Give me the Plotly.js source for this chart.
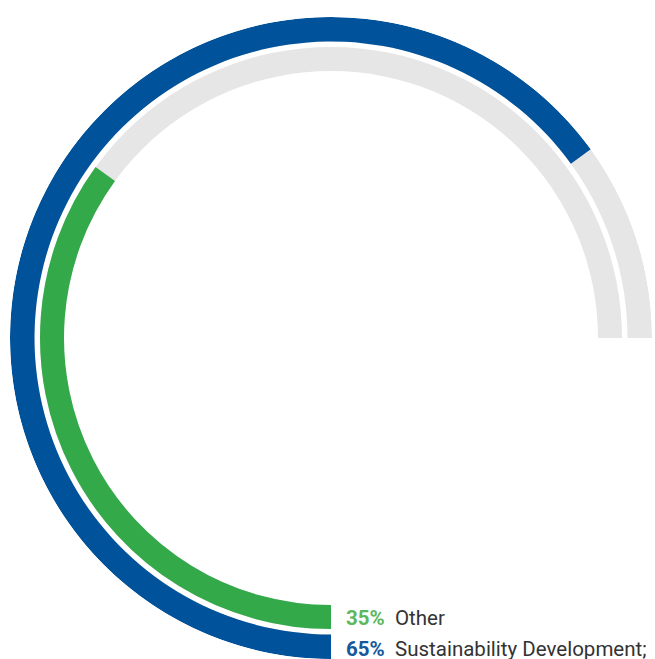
<!DOCTYPE html>
<html>
<head>
<meta charset="utf-8">
<script src="https://cdn.plot.ly/plotly-3.0.1.min.js"></script>
<style>html,body{margin:0;padding:0;background:#fff;}#chart{width:655px;height:659px;}</style>
</head>
<body>
<div id="chart"></div>
<script>
// Data
const categories = ['Other', 'Sustainability Development;'];
const percents = [35, 65];
const barColors = ['#34a94a', '#00529b'];
const pctColors = ['#5cb85c', '#15599c'];
const trackSpanDeg = 270;       // grey track spans 3/4 of the circle
const ringInner = [267, 296.5]; // radial units (inner ring, outer ring)
const ringThick = [24, 24.5];

const traces = [];
// grey tracks
for (let i = 0; i < categories.length; i++) {
  traces.push({
    type: 'barpolar',
    theta: [trackSpanDeg / 2], width: [trackSpanDeg],
    r: [ringThick[i]], base: [ringInner[i]],
    marker: {color: '#e6e6e6', line: {width: 0}},
    hoverinfo: 'skip', showlegend: false
  });
}
// value arcs (percent of the full circle)
for (let i = 0; i < categories.length; i++) {
  const span = percents[i] / 100 * 360;
  traces.push({
    type: 'barpolar',
    theta: [span / 2], width: [span],
    r: [ringThick[i]], base: [ringInner[i]],
    marker: {color: barColors[i], line: {width: 0}},
    name: categories[i], hoverinfo: 'skip', showlegend: false
  });
}

const annotations = [];
const rowY = [618, 649];
for (let i = 0; i < categories.length; i++) {
  annotations.push({
    xref: 'paper', yref: 'paper', x: 344 / 655, y: 1 - rowY[i] / 659,
    xanchor: 'left', yanchor: 'middle', showarrow: false,
    text: '<b>' + percents[i] + '%</b>',
    font: {family: 'Roboto, sans-serif', size: 20.5, color: pctColors[i]}
  });
  annotations.push({
    xref: 'paper', yref: 'paper', x: 393 / 655, y: 1 - rowY[i] / 659,
    xanchor: 'left', yanchor: 'middle', showarrow: false,
    text: categories[i],
    font: {family: 'Roboto, sans-serif', size: 20.5, color: '#333333'}
  });
}

const layout = {
  width: 655, height: 659,
  margin: {l: 0, r: 0, t: 0, b: 0},
  paper_bgcolor: '#ffffff',
  showlegend: false,
  polar: {
    domain: {x: [10 / 655, 652 / 655], y: [0, 642 / 659]},
    bgcolor: 'rgba(0,0,0,0)',
    barmode: 'overlay',
    radialaxis: {visible: false, range: [0, 321]},
    angularaxis: {visible: false, rotation: 270, direction: 'clockwise', showgrid: false, showline: false}
  },
  annotations: annotations
};

Plotly.newPlot('chart', traces, layout, {displayModeBar: false, staticPlot: true});
</script>
</body>
</html>
